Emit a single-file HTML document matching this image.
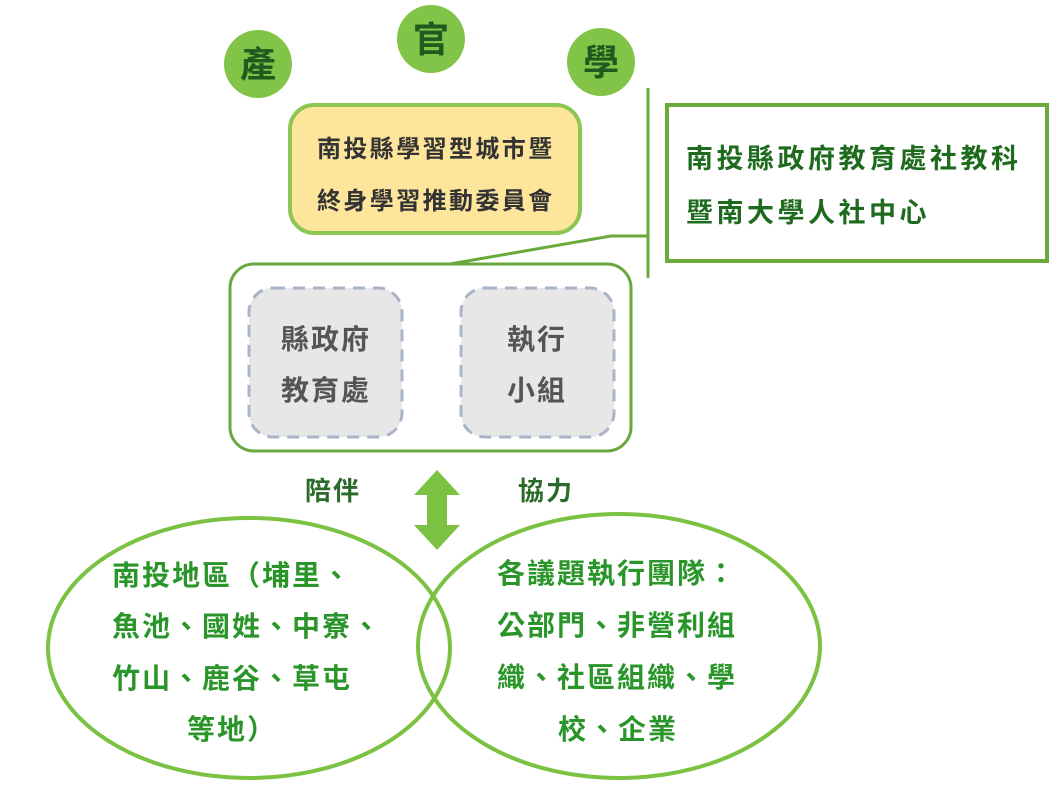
<!DOCTYPE html>
<html><head><meta charset="utf-8"><style>
html,body{margin:0;padding:0;background:#fff;}
svg{display:block;}
text{font-family:"Liberation Sans","Noto Sans CJK TC",sans-serif;font-weight:bold;}
</style></head><body>
<svg width="1062" height="800" viewBox="0 0 1062 800" xmlns="http://www.w3.org/2000/svg">
<circle cx="258" cy="64" r="34" fill="#82c447"/>
<circle cx="431" cy="39" r="34" fill="#82c447"/>
<circle cx="601" cy="62" r="34" fill="#82c447"/>
<g fill="#1f5a1f" font-size="36" text-anchor="middle">
<text x="258" y="77">產</text>
<text x="431" y="52">官</text>
<text x="601" y="75">學</text>
</g>
<rect x="290" y="105" width="290" height="128" rx="24" fill="#fde59c" stroke="#8dc653" stroke-width="4"/>
<g fill="#333" font-size="24" letter-spacing="2.4">
<text x="317" y="157">南投縣學習型城市暨</text>
<text x="317" y="209">終身學習推動委員會</text>
</g>
<line x1="648" y1="88" x2="648" y2="278" stroke="#6aaa3a" stroke-width="3"/>
<polyline points="648,236 611,236 450,264" fill="none" stroke="#6aaa3a" stroke-width="3"/>
<rect x="667" y="105" width="380" height="156" fill="#fff" stroke="#6aaa3a" stroke-width="4"/>
<g fill="#1e6b1e" font-size="27" letter-spacing="3.5">
<text x="686" y="168">南投縣政府教育處社教科</text>
<text x="686" y="222">暨南大學人社中心</text>
</g>
<rect x="230" y="264" width="401" height="187" rx="24" fill="#fff" stroke="#6aa83f" stroke-width="3"/>
<rect x="249" y="288" width="153" height="149" rx="24" fill="#e7e7e7" stroke="#a9b4c8" stroke-width="3" stroke-dasharray="12,8"/>
<rect x="461" y="288" width="153" height="149" rx="24" fill="#e7e7e7" stroke="#a9b4c8" stroke-width="3" stroke-dasharray="12,8"/>
<g fill="#555" font-size="28" font-weight="normal" letter-spacing="2">
<text x="281" y="349">縣政府</text>
<text x="281" y="400">教育處</text>
<text x="507" y="349">執行</text>
<text x="507" y="400">小組</text>
</g>
<g fill="#2a6a2a" font-size="26" letter-spacing="2">
<text x="305" y="500">陪伴</text>
<text x="518" y="500">協力</text>
</g>
<polygon points="437,470 460,495 447,495 447,525 460,525 437,550 414,525 427,525 427,495 414,495" fill="#7cc242"/>
<ellipse cx="249" cy="648" rx="201" ry="130" fill="none" stroke="#7cc242" stroke-width="4"/>
<ellipse cx="619" cy="646" rx="201" ry="132" fill="none" stroke="#7cc242" stroke-width="4"/>
<g fill="#2a962a" font-size="28" letter-spacing="2">
<text x="112" y="585">南投地區（埔里、</text>
<text x="112" y="636">魚池、國姓、中寮、</text>
<text x="112" y="688">竹山、鹿谷、草屯</text>
<text x="187" y="739">等地）</text>
<text x="497" y="583">各議題執行團隊：</text>
<text x="497" y="635">公部門、非營利組</text>
<text x="497" y="687">織、社區組織、學</text>
<text x="558" y="739">校、企業</text>
</g>
</svg>
</body></html>
